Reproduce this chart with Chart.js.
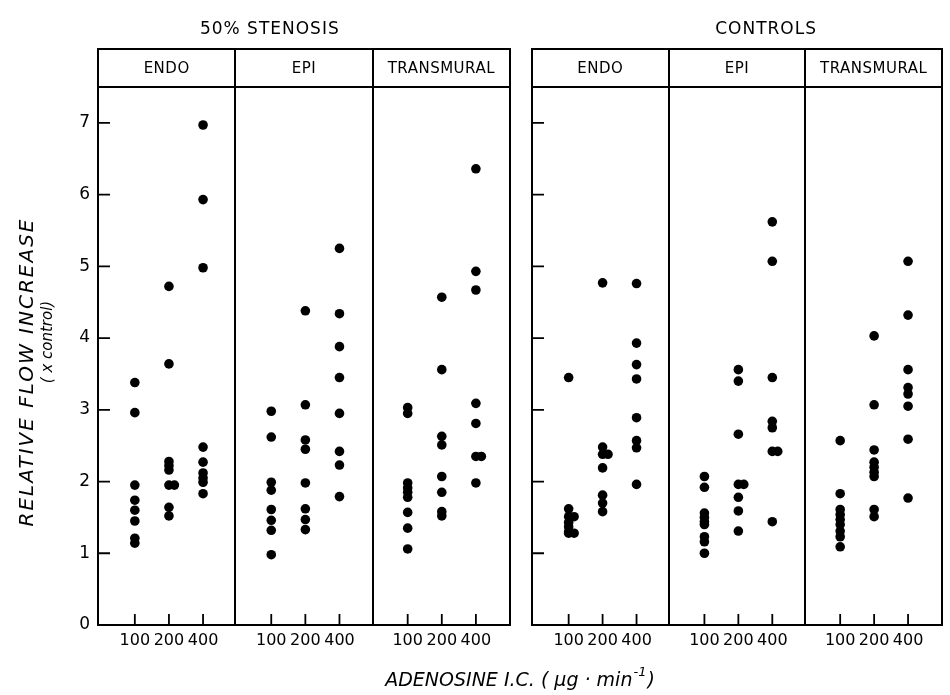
<!DOCTYPE html>
<html><head><meta charset="utf-8">
<script src="https://cdn.jsdelivr.net/npm/chart.js@4.4.1/dist/chart.umd.min.js"></script>
<style>
html,body{margin:0;padding:0;background:#fff;}
#wrap{position:relative;width:950px;height:695px;background:#fff;}
canvas{position:absolute;left:0;top:0;}
</style></head><body>
<div id="wrap"><canvas id="c1" width="950" height="695"></canvas><canvas id="c2" width="950" height="695"></canvas></div>
<script>
const doses = ['100', '200', '400'];
const layers = ['ENDO', 'EPI', 'TRANSMURAL'];
const groupTitles = ['50% STENOSIS', 'CONTROLS'];
const yTicks = [0, 1, 2, 3, 4, 5, 6, 7];

// 50% stenosis
const stenEndo100 = [3.38, 2.96, 1.95, 1.74, 1.60, 1.45, 1.21, 1.14];
const stenEndo200 = [4.72, 3.64, 2.28, 2.22, 2.16, 1.95, 1.95, 1.64, 1.52];
const stenEndo400 = [6.97, 5.93, 4.98, 2.48, 2.27, 2.12, 2.05, 1.99, 1.83];
const stenEpi100 = [2.98, 2.62, 1.99, 1.88, 1.61, 1.46, 1.32, 0.98];
const stenEpi200 = [4.38, 3.07, 2.58, 2.45, 1.98, 1.62, 1.47, 1.33];
const stenEpi400 = [5.25, 4.34, 3.88, 3.45, 2.95, 2.42, 2.23, 1.79];
const stenTrans100 = [3.03, 2.95, 1.98, 1.91, 1.85, 1.78, 1.57, 1.35, 1.06];
const stenTrans200 = [4.57, 3.56, 2.63, 2.51, 2.07, 1.85, 1.58, 1.52];
const stenTrans400 = [6.36, 4.93, 4.67, 3.09, 2.81, 2.35, 2.35, 1.98];

// Controls
const ctrlEndo100 = [3.45, 1.62, 1.51, 1.51, 1.43, 1.37, 1.30, 1.28, 1.28];
const ctrlEndo200 = [4.77, 2.48, 2.38, 2.38, 2.19, 1.81, 1.70, 1.58];
const ctrlEndo400 = [4.76, 3.93, 3.63, 3.43, 2.89, 2.57, 2.47, 1.96];
const ctrlEpi100 = [2.07, 1.92, 1.56, 1.50, 1.44, 1.40, 1.23, 1.16, 1.00];
const ctrlEpi200 = [3.56, 3.40, 2.66, 1.96, 1.96, 1.78, 1.59, 1.31];
const ctrlEpi400 = [5.62, 5.07, 3.45, 2.84, 2.75, 2.42, 2.42, 1.44];
const ctrlTrans100 = [2.57, 1.83, 1.61, 1.54, 1.47, 1.40, 1.31, 1.23, 1.09];
const ctrlTrans200 = [4.03, 3.07, 2.44, 2.27, 2.20, 2.13, 2.07, 1.61, 1.51];
const ctrlTrans400 = [5.07, 4.32, 3.56, 3.31, 3.22, 3.05, 2.59, 1.77];

const stenosisPanels = [[stenEndo100, stenEndo200, stenEndo400], [stenEpi100, stenEpi200, stenEpi400], [stenTrans100, stenTrans200, stenTrans400]];
const controlPanels = [[ctrlEndo100, ctrlEndo200, ctrlEndo400], [ctrlEpi100, ctrlEpi200, ctrlEpi400], [ctrlTrans100, ctrlTrans200, ctrlTrans400]];

const FONT = 'DejaVu Sans';
const W = 950, H = 695;
const TOP_BOX = 49, HEAD_BOTTOM = 87, X_AXIS_H = 70;

function buildPoints(panels) {
  const pts = [];
  panels.forEach((cols, p) => {
    cols.forEach((vals, k) => {
      const seen = {};
      vals.forEach(v => {
        const key = v.toFixed(2);
        const n = seen[key] || 0;
        seen[key] = n + 1;
        pts.push({ x: p * 4 + k + 1 + n * 0.16, y: v });
      });
    });
  });
  return pts;
}
const xTickVals = [];
for (let p = 0; p < 3; p++) for (let k = 0; k < 3; k++) xTickVals.push(p * 4 + k + 1);

function framePlugin(groupIdx, titleFrac, drawAxisTitles) {
  return {
    id: 'frame' + groupIdx,
    afterDraw(chart) {
      const ctx = chart.ctx;
      const a = chart.chartArea;
      const L = a.left, R = a.right, B = a.bottom, T = a.top;
      const xs = chart.scales.x, ys = chart.scales.y;
      ctx.save();
      ctx.strokeStyle = '#000';
      ctx.fillStyle = '#000';
      ctx.lineWidth = 2;
      ctx.lineCap = 'square';
      ctx.beginPath();
      ctx.moveTo(L, TOP_BOX); ctx.lineTo(R, TOP_BOX);
      ctx.moveTo(L, T); ctx.lineTo(R, T);
      ctx.moveTo(L, B); ctx.lineTo(R, B);
      ctx.moveTo(L, TOP_BOX); ctx.lineTo(L, B);
      ctx.moveTo(R, TOP_BOX); ctx.lineTo(R, B);
      const pw = (R - L) / 3;
      for (let i = 1; i < 3; i++) {
        const x = Math.round(L + pw * i);
        ctx.moveTo(x, TOP_BOX); ctx.lineTo(x, B);
      }
      ctx.stroke();
      ctx.lineCap = 'butt';
      ctx.lineWidth = 1.8;
      ctx.beginPath();
      yTicks.forEach(v => {
        if (v === 0) return;
        const y = ys.getPixelForValue(v);
        ctx.moveTo(L, y); ctx.lineTo(L + 12, y);
      });
      xTickVals.forEach(v => {
        const x = xs.getPixelForValue(v);
        ctx.moveTo(x, B); ctx.lineTo(x, B - 11);
      });
      ctx.stroke();
      // header labels
      ctx.textAlign = 'center';
      ctx.textBaseline = 'middle';
      ctx.font = '15px "' + FONT + '"';
      if ('letterSpacing' in ctx) ctx.letterSpacing = '0.5px';
      layers.forEach((lab, i) => {
        ctx.fillText(lab, L + pw * (i + 0.5), (TOP_BOX + T) / 2 + 1);
      });
      // group title
      ctx.font = '17px "' + FONT + '"';
      if ('letterSpacing' in ctx) ctx.letterSpacing = '1px';
      ctx.fillText(groupTitles[groupIdx], L + (R - L) * titleFrac, 30);
      if ('letterSpacing' in ctx) ctx.letterSpacing = '0px';
      if (drawAxisTitles) {
        ctx.save();
        ctx.translate(28, 372);
        ctx.rotate(-Math.PI / 2);
        ctx.font = 'italic 20px "' + FONT + '"';
        if ('letterSpacing' in ctx) ctx.letterSpacing = '2px';
        ctx.fillText('RELATIVE FLOW INCREASE', 0, 0);
        ctx.restore();
        ctx.save();
        ctx.translate(48, 342);
        ctx.rotate(-Math.PI / 2);
        ctx.font = 'italic 15px "' + FONT + '"';
        ctx.fillText('( x control)', 0, 0);
        ctx.restore();
        // x title with superscript
        const main = 'ADENOSINE I.C. ( \u00B5g \u00B7 min';
        const sup = '-1';
        const end = ')';
        ctx.textAlign = 'left';
        ctx.font = 'italic 19px "' + FONT + '"';
        const w1 = ctx.measureText(main).width;
        const w3 = ctx.measureText(end).width;
        ctx.font = 'italic 13px "' + FONT + '"';
        const w2 = ctx.measureText(sup).width;
        const total = w1 + w2 + w3 + 2;
        let x0 = 520 - total / 2;
        const yT = 681;
        ctx.font = 'italic 19px "' + FONT + '"';
        ctx.fillText(main, x0, yT);
        ctx.font = 'italic 13px "' + FONT + '"';
        ctx.fillText(sup, x0 + w1 + 1, yT - 8);
        ctx.font = 'italic 19px "' + FONT + '"';
        ctx.fillText(end, x0 + w1 + w2 + 2, yT);
      }
      ctx.restore();
    }
  };
}

function makeChart(id, panels, groupIdx, leftEdge, rightEdge, showY, titleFrac, axisTitles) {
  const yWidth = showY ? leftEdge : 0;
  return new Chart(document.getElementById(id), {
    type: 'scatter',
    data: {
      datasets: [{
        data: buildPoints(panels),
        pointRadius: 4.8,
        pointHoverRadius: 4.8,
        pointBackgroundColor: '#000',
        pointBorderWidth: 0,
        showLine: false
      }]
    },
    options: {
      responsive: false,
      animation: false,
      devicePixelRatio: 1,
      events: [],
      layout: { padding: { top: HEAD_BOTTOM, bottom: 0, left: showY ? 0 : leftEdge, right: W - rightEdge } },
      plugins: { legend: { display: false }, tooltip: { enabled: false }, title: { display: false } },
      scales: {
        x: {
          type: 'linear', min: -0.08, max: 12,
          afterBuildTicks: s => { s.ticks = xTickVals.map(v => ({ value: v })); },
          afterFit: s => { s.height = X_AXIS_H; },
          ticks: {
            autoSkip: false, maxRotation: 0, minRotation: 0, padding: 6,
            color: '#000', font: { family: FONT, size: 16 },
            callback: v => doses[(Math.round(v) - 1) % 4]
          },
          grid: { display: false, drawTicks: false },
          border: { display: false }
        },
        y: {
          type: 'linear', min: 0, max: 7.5,
          afterBuildTicks: s => { s.ticks = yTicks.map(v => ({ value: v })); },
          afterFit: s => { s.width = yWidth; },
          ticks: {
            display: showY, padding: 8, color: '#000',
            font: { family: FONT, size: 17 },
            callback: v => String(v)
          },
          grid: { display: false, drawTicks: false },
          border: { display: false }
        }
      }
    },
    plugins: [framePlugin(groupIdx, titleFrac, axisTitles)]
  });
}

makeChart('c1', stenosisPanels, 0, 98, 510, true, 0.417, true);
makeChart('c2', controlPanels, 1, 532, 942, false, 0.571, false);
</script>
</body></html>
